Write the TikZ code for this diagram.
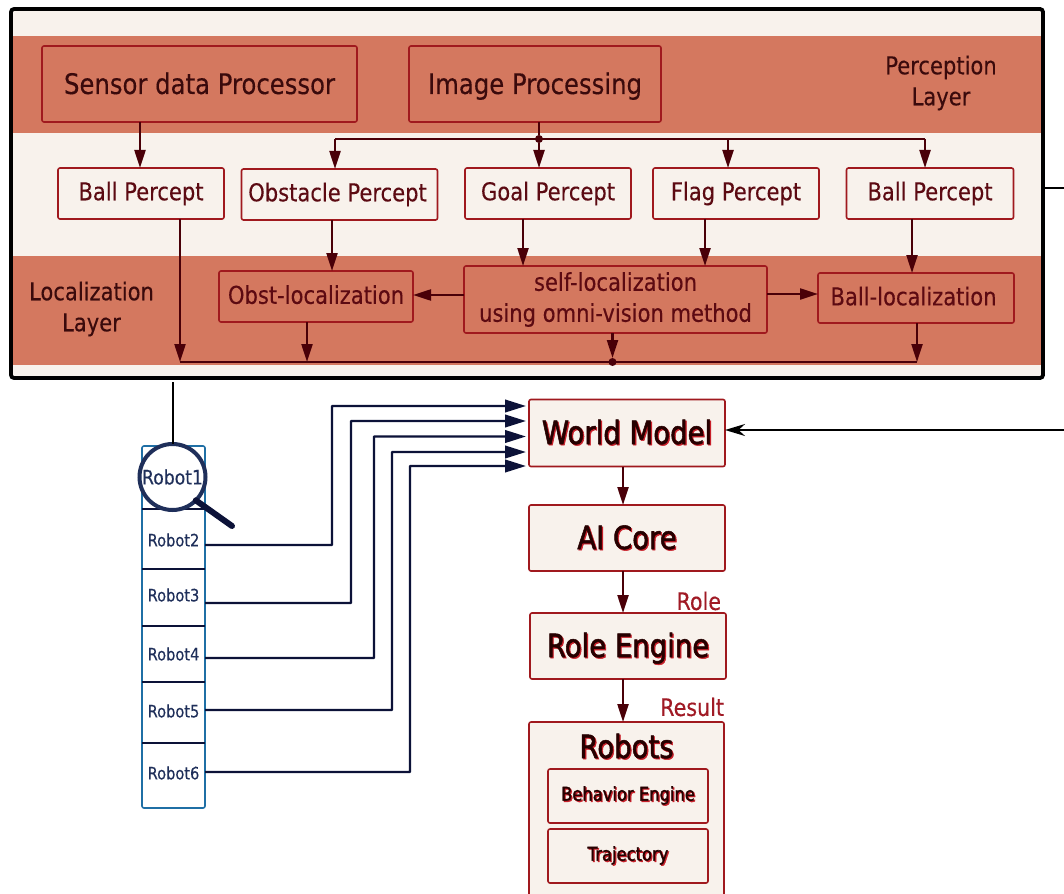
\documentclass[tikz,border=0pt]{standalone}
\usepackage{fontspec}
\setmainfont{DejaVu Sans}[FakeStretch=0.86,FakeBold=0.25]
\newfontfamily\boldfake{DejaVu Sans}[FakeStretch=0.86,FakeBold=1.6]
\usetikzlibrary{arrows.meta}
\definecolor{cream}{HTML}{F8F2EC}
\definecolor{band}{HTML}{D4785F}
\definecolor{edge}{HTML}{A0191E}
\definecolor{wire}{HTML}{4A0008}
\definecolor{inkdark}{HTML}{3A0A0C}
\definecolor{inkred}{HTML}{5C0A12}
\definecolor{labelred}{HTML}{A01A25}
\definecolor{navy}{HTML}{0C1238}
\definecolor{panel}{HTML}{1F6FA5}
\definecolor{robotink}{HTML}{1F2F5A}
\definecolor{shadowred}{HTML}{C8202A}
\newcommand{\shadowed}[1]{\leavevmode\rlap{\raisebox{-1.2pt}{\kern1.2pt\textcolor{shadowred}{#1}}}\textcolor{black!85!red}{#1}}
\tikzset{
  every node/.style={inner sep=0pt,outer sep=0pt},
  bandbox/.style={draw=edge,line width=1.6pt,rounded corners=2pt,fill=band,text=inkdark,align=center},
  creambox/.style={draw=edge,line width=1.6pt,rounded corners=2pt,fill=cream,text=inkred,align=center},
  perceptlabel/.style={text height=20pt,text depth=0pt,font=\fontsize{28.3}{30}\selectfont},
  midlabel/.style={font=\fontsize{24.5}{31}\selectfont},
  loclabel/.style={text depth=4pt,font=\fontsize{24.5}{31}\selectfont},
  layerlabel/.style={text=inkdark,align=center,font=\fontsize{24.5}{31}\selectfont},
  bigbold/.style={text height=22pt,text depth=0pt,font=\boldfake\fontsize{32}{34}\selectfont},
  smallbold/.style={font=\boldfake\fontsize{19}{21}\selectfont},
  redlabel/.style={text=labelred,font=\fontsize{24}{26}\selectfont},
  robotcell/.style={text=robotink,font=\fontsize{17}{19}\selectfont},
  arr/.style={draw=wire,line width=2.2pt,-{Triangle[length=18pt,width=11pt]}},
  plainwire/.style={draw=wire,line width=2.2pt},
  navyarr/.style={draw=navy,line width=2.4pt,rounded corners=0.5pt,-{Triangle[length=21pt,width=12.5pt]}},
  blackarr/.style={draw=black,line width=1.8pt,-{Stealth[length=20pt,width=12pt]}},
  dotjoin/.style={circle,fill=wire,minimum size=8pt},
}
\begin{document}
\begin{tikzpicture}[x=1pt,y=-1pt]
\useasboundingbox (0,0) rectangle (1064,893);
\clip (0,0) rectangle (1064,893);
\fill[white] (0,0) rectangle (1064,893);
% frame and bands
\fill[cream] (11,9) rectangle (1043,378);
\fill[band] (11,36) rectangle (1043,133);
\fill[band] (11,256) rectangle (1043,365);
\node[draw=black,line width=3.8pt,rounded corners=3pt,minimum width=1032pt,minimum height=369pt] (frame) at (527,193.5) {};
% top boxes
\node[bandbox,minimum width=315pt,minimum height=76pt,perceptlabel] (sensor) at (199.5,84) {Sensor data Processor};
\node[bandbox,minimum width=252pt,minimum height=76pt,perceptlabel] (image) at (535,84) {Image Processing};
\node[layerlabel] (perc) at (941,83) {Perception\\Layer};
\node[layerlabel] (loc) at (91.5,309) {Localization\\Layer};
% percepts
\node[creambox,minimum width=166pt,minimum height=51pt,midlabel] (ballA) at (141,193.5) {Ball Percept};
\node[creambox,minimum width=196pt,minimum height=51pt,midlabel] (obst) at (339.5,194.5) {\kern-4pt Obstacle Percept};
\node[creambox,minimum width=166pt,minimum height=51pt,midlabel] (goal) at (548,193.5) {Goal Percept};
\node[creambox,minimum width=166pt,minimum height=51pt,midlabel] (flag) at (736,193.5) {Flag Percept};
\node[creambox,minimum width=167pt,minimum height=51pt,midlabel] (ballB) at (930,193.5) {Ball Percept};
% localization
\node[bandbox,text=inkred,minimum width=194pt,minimum height=51pt,loclabel] (obloc) at (316,296.5) {Obst-localization};
\node[bandbox,text=inkred,minimum width=303pt,minimum height=67pt,midlabel] (self) at (615.5,299.5) {self-localization\\using omni-vision method};
\node[bandbox,text=inkred,minimum width=196pt,minimum height=50pt,loclabel] (ballloc) at (916,298) {\kern-5pt Ball-localization};
% taps and buses
\coordinate (tA) at (140,0);
\coordinate (tB) at (180,0);
\coordinate (tC) at (335,0);
\coordinate (tD) at (332,0);
\coordinate (tE) at (523,0);
\coordinate (tF) at (728,0);
\coordinate (tG) at (705,0);
\coordinate (tH) at (925,0);
\coordinate (tI) at (912,0);
\coordinate (tJ) at (307,0);
\coordinate (tK) at (917,0);
\coordinate (yL) at (0,295);
\coordinate (yR) at (0,294);
\node[dotjoin] (jtop) at (539,139) {};
\node[dotjoin] (jbot) at (612.5,362) {};
\coordinate (busTL) at (335,139);
\coordinate (busTR) at (925,139);
\coordinate (busBL) at (180,362);
\coordinate (busBR) at (917,362);
\draw[plainwire] (busTL) -- (busTR);
\draw[plainwire] (busBL) -- (busBR);
\draw[plainwire] (image.south -| jtop) -- (jtop);
\draw[arr] (sensor.south -| tA) -- (ballA.north -| tA);
\draw[arr] (busTL) -- (obst.north -| tC);
\draw[arr] (jtop) -- (goal.north -| jtop);
\draw[arr] (busTL -| tF) -- (flag.north -| tF);
\draw[arr] (busTR) -- (ballB.north -| tH);
\draw[arr] (ballA.south -| tB) -- (busBL);
\draw[arr] (obst.south -| tD) -- (obloc.north -| tD);
\draw[arr] (goal.south -| tE) -- (self.north -| tE);
\draw[arr] (flag.south -| tG) -- (self.north -| tG);
\draw[arr] (ballB.south -| tI) -- (ballloc.north -| tI);
\draw[arr] (self.west |- yL) -- (obloc.east |- yL);
\draw[arr] (self.east |- yR) -- (ballloc.west |- yR);
\draw[arr] (obloc.south -| tJ) -- (busBL -| tJ);
\draw[arr] (self.south -| jbot) -- (jbot);
\draw[arr] (ballloc.south -| tK) -- (busBR);
% right column
\node[creambox,minimum width=196pt,minimum height=67pt,bigbold] (world) at (627,433) {\shadowed{World Model}};
\node[creambox,minimum width=196pt,minimum height=66pt,bigbold] (core) at (627,538) {\shadowed{AI Core}};
\node[creambox,minimum width=196pt,minimum height=66pt,bigbold] (role) at (628,646) {\shadowed{Role Engine}};
\node[creambox,minimum width=195pt,minimum height=190pt] (robots) at (626.5,817) {};
\node[bigbold] (robotst) at (626.5,747) {\shadowed{Robots}};
\node[creambox,minimum width=160pt,minimum height=54pt,smallbold] (behav) at (628,796) {\shadowed{Behavior Engine}};
\node[creambox,minimum width=160pt,minimum height=54pt,smallbold] (traj) at (628,856) {\shadowed{Trajectory}};
\node[redlabel,anchor=east] (rolel) at (721,601) {Role};
\node[redlabel,anchor=east] (resl) at (724,707) {Result};
\coordinate (tM) at (623,0);
\draw[arr] (world.south -| tM) -- (core.north -| tM);
\draw[arr] (core.south -| tM) -- (role.north -| tM);
\draw[arr] (role.south -| tM) -- (robots.north -| tM);
% robot panel
\node[draw=panel,line width=1.6pt,rounded corners=2pt,fill=white,minimum width=63pt,minimum height=362pt] (panelbox) at (173.5,627) {};
\coordinate (c1) at (142,509);
\coordinate (c2) at (142,569);
\coordinate (c3) at (142,626);
\coordinate (c4) at (142,682);
\coordinate (c5) at (142,743);
\foreach \c in {c1,c2,c3,c4,c5} \draw[navy,line width=2.2pt] (\c) -- (\c -| panelbox.east);
\node[robotcell] (r2) at (173.5,540) {Robot2};
\node[robotcell] (r3) at (173.5,595) {Robot3};
\node[robotcell] (r4) at (173.5,654) {Robot4};
\node[robotcell] (r5) at (173.5,711) {Robot5};
\node[robotcell] (r6) at (173.5,773) {Robot6};
% magnifier
\coordinate (hand) at (232,526);
\coordinate (lensin) at (172.5,382);
\node[circle,draw=robotink,line width=4pt,fill=white,minimum size=66pt,text=robotink,font=\fontsize{20}{22}\selectfont] (lens) at (172.5,477) {Robot1};
\draw[navy,line width=6pt,line cap=round] (lens.-45) -- (hand);
% connector from frame to lens
\draw[black,line width=2pt] (lensin) -- (lens.north);
% frame right exit
\coordinate (exitA) at (1064,188);
\coordinate (exitB) at (1064,430);
\draw[black,line width=1.8pt] (frame.east |- exitA) -- (exitA);
\draw[blackarr] (exitB) -- (exitB -| world.east);
% robot wires
\coordinate (w2) at (332,406);
\coordinate (w3) at (351,421);
\coordinate (w4) at (374,436.5);
\coordinate (w5) at (392,452);
\coordinate (w6) at (410,466);
\coordinate (ea) at (526,0);
\draw[navyarr] (panelbox.east |- 0,545) -| (w2) -- (w2 -| ea);
\draw[navyarr] (panelbox.east |- 0,603) -| (w3) -- (w3 -| ea);
\draw[navyarr] (panelbox.east |- 0,658) -| (w4) -- (w4 -| ea);
\draw[navyarr] (panelbox.east |- 0,710) -| (w5) -- (w5 -| ea);
\draw[navyarr] (panelbox.east |- 0,772) -| (w6) -- (w6 -| ea);
\end{tikzpicture}
\end{document}
